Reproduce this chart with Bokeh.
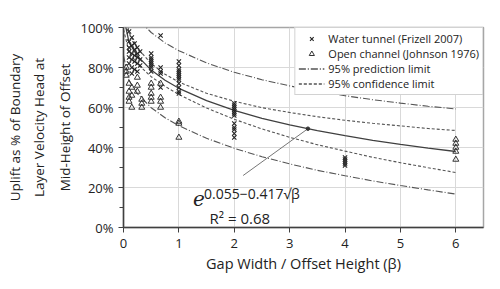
from bokeh.plotting import figure
from bokeh.models import (Range1d, PrintfTickFormatter, FixedTicker, Title, Legend,
                          LegendItem, ColumnDataSource)
from bokeh.core.properties import value
from bokeh.embed import file_html
from bokeh.resources import INLINE

# ---- data ----
wt_beta = ([0.1] * 6 + [0.15] * 6 + [0.2] * 5 + [0.25] * 5 + [0.3] * 3 +
           [0.5] * 8 + [0.67] * 5 + [1.0] * 12 + [2.0] * 12 + [4.0] * 5)
wt_uplift = [98, 93, 90, 88, 85, 82,
             95, 91, 87, 84, 80, 77,
             92, 89, 86, 83, 79,
             90, 87, 85, 82, 78,
             88, 84, 81,
             87, 85, 84, 83, 82, 81, 80, 78,
             96, 80, 78, 77, 70,
             83, 81, 79, 78, 77, 76, 75, 74, 72, 70, 68, 67,
             62, 61, 60, 59, 58, 57, 56, 52, 50, 49, 47, 45,
             35, 34, 33, 32, 31]

oc_beta = ([0.05] * 3 + [0.1] * 4 + [0.15] * 3 + [0.25] * 3 + [0.33] * 3 +
           [0.5] * 5 + [0.67] * 4 + [1.0] * 3 + [6.0] * 5)
oc_uplift = [80, 78, 76,
             72, 68, 65, 63,
             70, 66, 60,
             75, 71, 68,
             64, 62, 60,
             72, 70, 67, 65, 63,
             72, 65, 63, 60,
             53, 52, 45,
             44, 42, 40, 38, 34]

curve_beta = [0, 0.1, 0.25, 0.5, 0.75, 1, 1.5, 2, 2.5, 3, 3.5, 4, 4.5, 5, 5.5, 6]
fit_curve = [105.6, 92.6, 85.8, 78.7, 73.6, 69.6, 63.4, 58.6, 54.6, 51.3, 48.4, 45.9,
             43.6, 41.6, 39.7, 38.0]
conf_upper = [112.2, 97.4, 89.8, 82.0, 76.6, 72.7, 67.1, 63.1, 59.9, 57.5, 55.4, 53.6,
              52.1, 50.8, 49.5, 48.5]
conf_lower = [99.0, 87.8, 81.8, 75.4, 70.6, 66.5, 59.7, 54.1, 49.3, 45.1, 41.4, 38.2,
              35.1, 32.4, 29.9, 27.5]
pred_upper = [125.2, 111.7, 104.7, 97.5, 92.3, 88.4, 82.3, 77.6, 73.9, 70.8, 68.2, 65.9,
              63.9, 62.2, 60.6, 59.3]
pred_lower = [86.0, 73.5, 66.9, 59.9, 54.9, 50.9, 44.6, 39.6, 35.4, 31.8, 28.6, 25.9,
              23.3, 21.0, 18.8, 16.7]

x_ticks = [0, 1, 2, 3, 4, 5, 6]
y_ticks = [0, 20, 40, 60, 80, 100]
y_minor = [10, 30, 50, 70, 90]

arrow_start = (2.16, 26.0)
arrow_end = (3.33, 49.4)

FONT = "Open Sans"
DARK = "#404040"
TXT = "#222222"

p = figure(width=500, height=289, x_range=Range1d(0, 6.5), y_range=Range1d(0, 100),
           output_backend="svg", toolbar_location=None,
           min_border_left=123, min_border_right=17, min_border_top=27,
           min_border_bottom=62)
p.background_fill_color = "white"
p.border_fill_color = "white"
p.outline_line_color = "#a6a6a6"
p.outline_line_width = 1.5

# axes
p.xaxis.ticker = FixedTicker(ticks=x_ticks)
p.yaxis.ticker = FixedTicker(ticks=y_ticks, minor_ticks=y_minor)
p.yaxis.formatter = PrintfTickFormatter(format="%d%%")
for ax in (p.xaxis, p.yaxis):
    ax.axis_line_color = DARK
    ax.axis_line_width = 1.5
    ax.major_tick_line_color = DARK
    ax.minor_tick_line_color = DARK
    ax.major_tick_in = 0
    ax.minor_tick_in = 0
    ax.major_tick_out = 5
    ax.minor_tick_out = 4
    ax.major_label_text_font = FONT
    ax.major_label_text_font_size = "13px"
    ax.major_label_text_color = TXT
p.xaxis.minor_tick_line_color = None
p.xaxis.major_label_standoff = 6
p.yaxis.major_label_standoff = 5

p.xaxis.axis_label = "Gap Width / Offset Height (\u03b2)"
p.xaxis.axis_label_text_font = FONT
p.xaxis.axis_label_text_font_size = "14.5px"
p.xaxis.axis_label_text_font_style = "normal"
p.xaxis.axis_label_text_color = TXT
p.xaxis.axis_label_standoff = 3

for line, so in [("Mid-Height of Offset", 8), ("Layer Velocity Head at", 4),
                 ("Uplift as % of Boundary", 4)]:
    t = Title(text=line, align="center", text_font=FONT, text_font_size="13.5px",
              text_font_style="normal", text_color=TXT, standoff=so)
    p.add_layout(t, "left")

p.xgrid.grid_line_color = "#d9d9d9"
p.ygrid.grid_line_color = "#d9d9d9"

# curves
src = ColumnDataSource(dict(b=curve_beta, fit=fit_curve, cu=conf_upper, cl=conf_lower,
                            pu=pred_upper, pl=pred_lower))
p.line("b", "fit", source=src, line_color=DARK, line_width=1.3)
r_pu = p.line("b", "pu", source=src, line_color="#555555", line_width=1.1,
              line_dash="7 2 1 2")
r_pl = p.line("b", "pl", source=src, line_color="#555555", line_width=1.1,
              line_dash="7 2 1 2")
r_cu = p.line("b", "cu", source=src, line_color="#555555", line_width=1.1,
              line_dash="3 2")
r_cl = p.line("b", "cl", source=src, line_color="#555555", line_width=1.1,
              line_dash="3 2")

# data points
r_wt = p.scatter(wt_beta, wt_uplift, marker="x", size=6, line_color=TXT,
                 line_width=1.1)
r_oc = p.scatter(oc_beta, oc_uplift, marker="triangle", size=6, fill_color=None,
                 line_color="#333333", line_width=1)

# annotation arrow
p.segment(x0=[arrow_start[0]], y0=[arrow_start[1]], x1=[arrow_end[0]], y1=[arrow_end[1]],
          line_color="#777777", line_width=1)
p.scatter([arrow_end[0]], [arrow_end[1]], marker="circle", size=3.5,
          fill_color="#333333", line_color="#333333")

p.text(x=[1.256], y=[14.75], text=["e"], text_font=value("DejaVu Serif"),
       text_font_style="italic", text_font_size="20px", text_color=TXT,
       text_baseline="alphabetic", text_align="left")
p.text(x=[1.454], y=[17.25], text=["0.055\u22120.417\u221a\u03b2"], text_font=value(FONT),
       text_font_size="14px", text_color=TXT, text_baseline="alphabetic",
       text_align="left")
p.text(x=[2.10], y=[5.0], text=["R\u00b2 = 0.68"], text_font=value(FONT),
       text_font_size="15px", text_color=TXT, text_baseline="alphabetic",
       text_align="center")

legend = Legend(items=[
    LegendItem(label="Water tunnel (Frizell 2007)", renderers=[r_wt]),
    LegendItem(label="Open channel (Johnson 1976)", renderers=[r_oc]),
    LegendItem(label="95% prediction limit", renderers=[r_pu, r_pl]),
    LegendItem(label="95% confidence limit", renderers=[r_cu, r_cl]),
], location="top_right")
legend.margin = 0
legend.padding = 3
legend.spacing = 0
legend.label_height = 13
legend.glyph_height = 13
legend.glyph_width = 26
legend.label_standoff = 4
legend.label_text_font = FONT
legend.label_text_font_size = "11px"
legend.label_text_color = TXT
legend.border_line_color = "#a6a6a6"
legend.border_line_width = 1.5
legend.background_fill_color = "white"
legend.background_fill_alpha = 1
p.add_layout(legend)

open("out.html", "w").write(file_html(p, INLINE))
